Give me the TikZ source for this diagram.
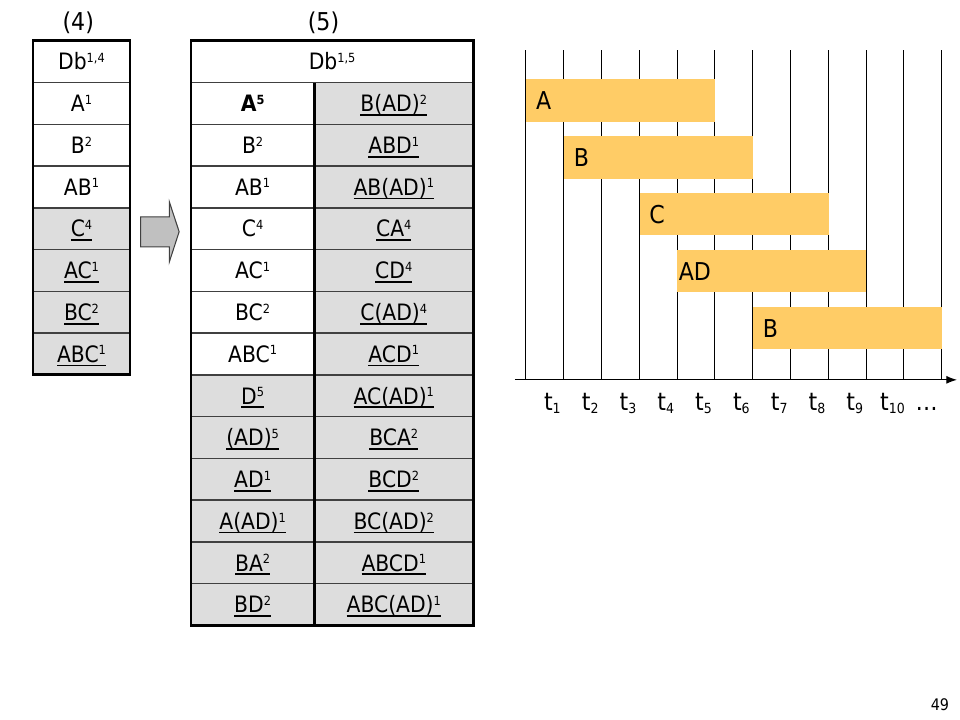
\documentclass[tikz,border=0pt]{standalone}
\usepackage{fontspec}
\setmainfont{DejaVu Sans Condensed}
\usepackage{color}
\usepackage{tikz}
\usetikzlibrary{arrows.meta}

\definecolor{cellgray}{RGB}{221,221,221}
\definecolor{barorange}{RGB}{255,204,102}
\definecolor{arrowgray}{RGB}{192,192,192}
\newsavebox{\undlbox}
\newcommand{\undl}[1]{\sbox{\undlbox}{#1}\rlap{\rule[-3.1pt]{\wd\undlbox}{1.3pt}}\usebox{\undlbox}}
\newcommand{\sups}[1]{\raisebox{5.5pt}{\fontsize{9.5pt}{10pt}\selectfont #1}}
\newcommand{\subs}[1]{\raisebox{-2.3pt}{\fontsize{10.5pt}{11pt}\selectfont #1}}

\begin{document}
\begin{tikzpicture}[>={Latex[length=8pt,width=6pt]}]
	\tikzstyle{cell}=[minimum height=1.105cm,inner sep=0pt,outer sep=0pt,draw=darkgray,line width=1.1pt,text height=12.4pt,text depth=0pt,font=\fontsize{17pt}{18pt}\selectfont]
	\tikzstyle{shaded}=[cell,fill=cellgray]
	\tikzstyle{frame}=[line width=2.2pt]
	\tikzstyle{gridline}=[line width=0.75pt]
	\tikzstyle{bar}=[minimum height=1.12cm,minimum width=5cm,inner sep=0pt,fill=barorange,anchor=west]
	\tikzstyle{barlabel}=[inner sep=0pt,text height=13.5pt,text depth=0pt,font=\fontsize{18.5pt}{20pt}\selectfont]
	\tikzstyle{tick}=[anchor=base,inner sep=0pt,font=\fontsize{18.5pt}{20pt}\selectfont]
	\tikzstyle{title}=[font=\fontsize{18.5pt}{20pt}\selectfont]

	\useasboundingbox (0,0) rectangle (25.4,19.05);

	\node[title] (T4) at (2.07,18.44) {(4)};
	\node[title] (T5) at (8.56,18.44) {(5)};

	% table (4)
	\node[cell,minimum width=2.566cm] (L0) at (2.156,17.418) {Db\sups{1,4}};
	\node[cell,minimum width=2.566cm] (L1) at (2.156,16.313) {A\sups{1}};
	\node[cell,minimum width=2.566cm] (L2) at (2.156,15.208) {B\sups{2}};
	\node[cell,minimum width=2.566cm] (L3) at (2.156,14.103) {AB\sups{1}};
	\node[shaded,minimum width=2.566cm] (L4) at (2.156,12.998) {\undl{C\sups{4}}};
	\node[shaded,minimum width=2.566cm] (L5) at (2.156,11.893) {\undl{AC\sups{1}}};
	\node[shaded,minimum width=2.566cm] (L6) at (2.156,10.788) {\undl{BC\sups{2}}};
	\node[shaded,minimum width=2.566cm] (L7) at (2.156,9.683) {\undl{ABC\sups{1}}};
	\draw[frame] (L0.north west) rectangle (L7.south east);

	\draw[draw=darkgray,fill=arrowgray,line width=0.8pt] (3.72,13.31) -- (4.48,13.31) -- (4.48,13.71) -- (4.74,12.92) -- (4.48,12.12) -- (4.48,12.52) -- (3.72,12.52) -- cycle;

	% table (5)
	\node[cell,minimum width=7.467cm] (R0) at (8.787,17.418) {Db\sups{1,5}};
	\node[cell,minimum width=3.262cm] (RL1) at (6.684,16.313) {\textbf{A\sups{5}}};
	\node[cell,minimum width=3.262cm] (RL2) at (6.684,15.208) {B\sups{2}};
	\node[cell,minimum width=3.262cm] (RL3) at (6.684,14.103) {AB\sups{1}};
	\node[cell,minimum width=3.262cm] (RL4) at (6.684,12.998) {C\sups{4}};
	\node[cell,minimum width=3.262cm] (RL5) at (6.684,11.893) {AC\sups{1}};
	\node[cell,minimum width=3.262cm] (RL6) at (6.684,10.788) {BC\sups{2}};
	\node[cell,minimum width=3.262cm] (RL7) at (6.684,9.683) {ABC\sups{1}};
	\node[shaded,minimum width=3.262cm] (RL8) at (6.684,8.578) {\undl{D\sups{5}}};
	\node[shaded,minimum width=3.262cm] (RL9) at (6.684,7.473) {\undl{(AD)\sups{5}}};
	\node[shaded,minimum width=3.262cm] (RL10) at (6.684,6.368) {\undl{AD\sups{1}}};
	\node[shaded,minimum width=3.262cm] (RL11) at (6.684,5.263) {\undl{A(AD)\sups{1}}};
	\node[shaded,minimum width=3.262cm] (RL12) at (6.684,4.158) {\undl{BA\sups{2}}};
	\node[shaded,minimum width=3.262cm] (RL13) at (6.684,3.053) {\undl{BD\sups{2}}};

	\node[shaded,minimum width=4.205cm] (RR1) at (10.418,16.313) {\undl{B(AD)\sups{2}}};
	\node[shaded,minimum width=4.205cm] (RR2) at (10.418,15.208) {\undl{ABD\sups{1}}};
	\node[shaded,minimum width=4.205cm] (RR3) at (10.418,14.103) {\undl{AB(AD)\sups{1}}};
	\node[shaded,minimum width=4.205cm] (RR4) at (10.418,12.998) {\undl{CA\sups{4}}};
	\node[shaded,minimum width=4.205cm] (RR5) at (10.418,11.893) {\undl{CD\sups{4}}};
	\node[shaded,minimum width=4.205cm] (RR6) at (10.418,10.788) {\undl{C(AD)\sups{4}}};
	\node[shaded,minimum width=4.205cm] (RR7) at (10.418,9.683) {\undl{ACD\sups{1}}};
	\node[shaded,minimum width=4.205cm] (RR8) at (10.418,8.578) {\undl{AC(AD)\sups{1}}};
	\node[shaded,minimum width=4.205cm] (RR9) at (10.418,7.473) {\undl{BCA\sups{2}}};
	\node[shaded,minimum width=4.205cm] (RR10) at (10.418,6.368) {\undl{BCD\sups{2}}};
	\node[shaded,minimum width=4.205cm] (RR11) at (10.418,5.263) {\undl{BC(AD)\sups{2}}};
	\node[shaded,minimum width=4.205cm] (RR12) at (10.418,4.158) {\undl{ABCD\sups{1}}};
	\node[shaded,minimum width=4.205cm] (RR13) at (10.418,3.053) {\undl{ABC(AD)\sups{1}}};
	\draw[frame] (R0.north west) rectangle (RR13.south east);
	\draw[frame] (RL1.north east) -- (RL13.south east);

	% time lines
	\draw[gridline] (13.915,17.72) -- (13.915,9.0);
	\draw[gridline] (14.915,17.72) -- (14.915,9.0);
	\draw[gridline] (15.915,17.72) -- (15.915,9.0);
	\draw[gridline] (16.915,17.72) -- (16.915,9.0);
	\draw[gridline] (17.915,17.72) -- (17.915,9.0);
	\draw[gridline] (18.915,17.72) -- (18.915,9.0);
	\draw[gridline] (19.915,17.72) -- (19.915,9.0);
	\draw[gridline] (20.915,17.72) -- (20.915,9.0);
	\draw[gridline] (21.915,17.72) -- (21.915,9.0);
	\draw[gridline] (22.915,17.72) -- (22.915,9.0);
	\draw[gridline] (23.915,17.72) -- (23.915,9.0);
	\draw[gridline] (24.915,17.72) -- (24.915,9.0);
	\coordinate (AX0) at (13.62,9.0);
	\coordinate (AX1) at (25.32,9.0);
	\draw[gridline,->] (AX0) -- (AX1);

	\node[bar] (BA) at (13.915,16.39) {};
	\node[bar] (BB) at (14.915,14.885) {};
	\node[bar] (BC) at (16.915,13.38) {};
	\node[bar] (BAD) at (17.915,11.875) {};
	\node[bar] (BB2) at (19.915,10.37) {};
	\node[barlabel] (LA) at ([xshift=0.47cm]BA.west) {A};
	\node[barlabel] (LB) at ([xshift=0.47cm]BB.west) {B};
	\node[barlabel] (LC) at ([xshift=0.47cm]BC.west) {C};
	\node[barlabel] (LAD) at ([xshift=0.47cm]BAD.west) {AD};
	\node[barlabel] (LB2) at ([xshift=0.47cm]BB2.west) {B};

	\node[tick] (t1) at (14.615,8.2) {t\subs{1}};
	\node[tick] (t2) at (15.615,8.2) {t\subs{2}};
	\node[tick] (t3) at (16.615,8.2) {t\subs{3}};
	\node[tick] (t4) at (17.615,8.2) {t\subs{4}};
	\node[tick] (t5) at (18.615,8.2) {t\subs{5}};
	\node[tick] (t6) at (19.615,8.2) {t\subs{6}};
	\node[tick] (t7) at (20.615,8.2) {t\subs{7}};
	\node[tick] (t8) at (21.615,8.2) {t\subs{8}};
	\node[tick] (t9) at (22.615,8.2) {t\subs{9}};
	\node[tick] (t10) at (23.615,8.2) {t\subs{10}};
	\node[tick] (tdots) at (24.52,8.2) {\ldots};

	\node[font=\fontsize{12pt}{14pt}\selectfont] (page) at (24.87,0.4) {49};
\end{tikzpicture}
\end{document}
